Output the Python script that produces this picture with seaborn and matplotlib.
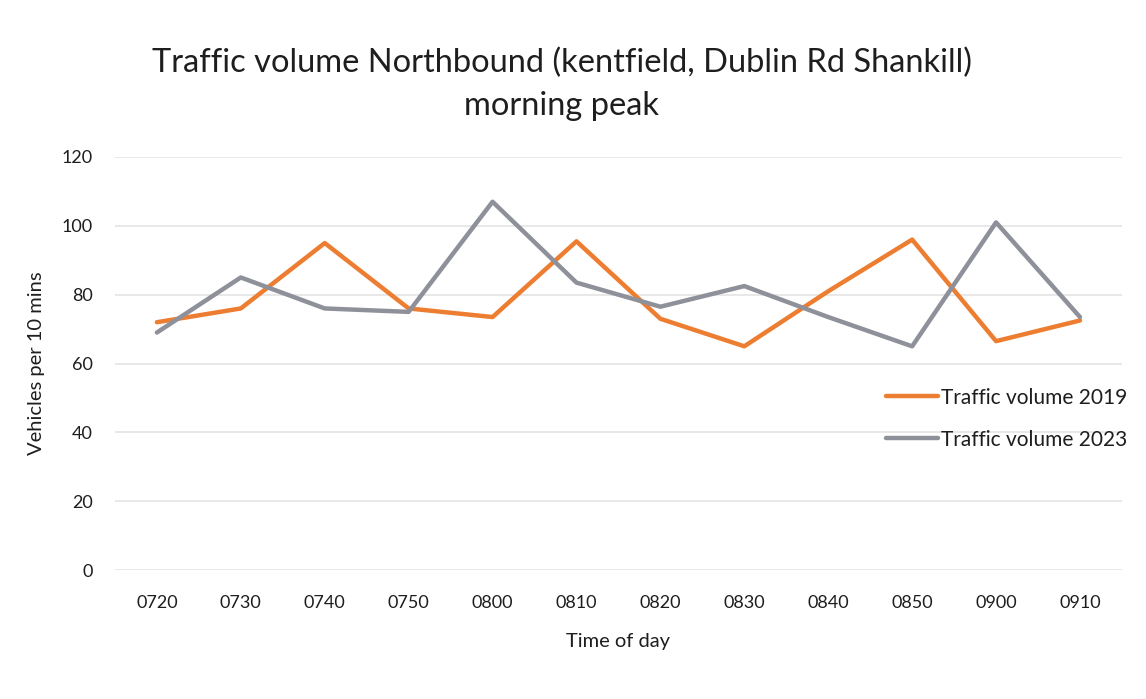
import matplotlib
matplotlib.use("Agg")
import matplotlib.pyplot as plt
import seaborn as sns
import pandas as pd

times = ["0720", "0730", "0740", "0750", "0800", "0810",
         "0820", "0830", "0840", "0850", "0900", "0910"]
vol_2019 = [72, 76, 95, 76, 73.5, 95.5, 73, 65, 81, 96, 66.5, 72.5]
vol_2023 = [69, 85, 76, 75, 107, 83.5, 76.5, 82.5, 73.5, 65, 101, 73.5]
series_names = ["Traffic volume 2019", "Traffic volume 2023"]

df = pd.DataFrame({
    "time": times * 2,
    "vehicles": vol_2019 + vol_2023,
    "series": [series_names[0]] * len(times) + [series_names[1]] * len(times),
})

sns.set_theme(style="white")
plt.rcParams["font.family"] = ["Lato", "DejaVu Sans"]
text_col = "#1e1e1e"

fig = plt.figure(figsize=(11.46, 6.99), dpi=100)
ax = fig.add_axes([0.1003, 0.1845, 0.8787, 0.5909])

sns.lineplot(data=df, x="time", y="vehicles", hue="series", sort=False,
             palette=["#ED7D31", "#8E9199"], linewidth=3.2, ax=ax)

ax.set_xlim(-0.5, len(times) - 0.5)
ax.set_ylim(0, 120)
ax.set_yticks(range(0, 121, 20))
ax.grid(axis="y", color="#E2E2E2", linewidth=1.1)
ax.set_axisbelow(True)
sns.despine(left=True, bottom=True)
ax.tick_params(axis="both", length=0, labelsize=13, colors=text_col)
ax.tick_params(axis="x", pad=18)
ax.tick_params(axis="y", pad=16)

ax.set_xlabel("Time of day", fontsize=14.5, color=text_col, labelpad=16)
ax.set_ylabel("Vehicles per 10 mins", fontsize=14.5, color=text_col, labelpad=12)

fig.text(0.49, 0.91, "Traffic volume Northbound (kentfield, Dublin Rd Shankill)",
         ha="center", va="center", fontsize=23.5, color=text_col)
fig.text(0.49, 0.848, "morning peak", ha="center", va="center",
         fontsize=23.5, color=text_col)

ax.legend(title=None, frameon=False, loc="center left",
          bbox_to_anchor=(0.757, 0.401), bbox_transform=fig.transFigure,
          fontsize=15, handlelength=2.5, handletextpad=0.15,
          labelspacing=1.05, labelcolor=text_col)

fig.savefig("out.png", dpi=100, facecolor="white")
